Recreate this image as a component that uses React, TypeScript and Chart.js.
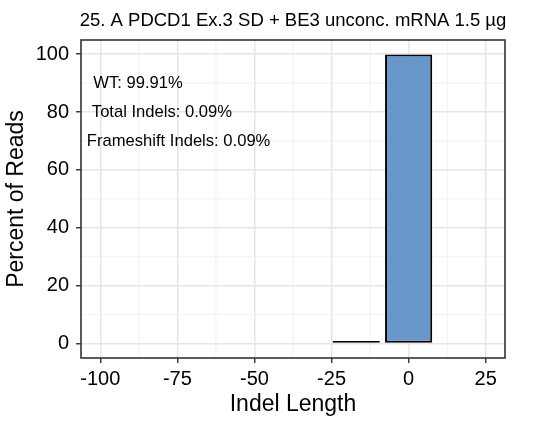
import React, { useEffect, useRef } from 'react';
import { Chart, registerables } from 'chart.js';

Chart.register(...registerables);

const chartTitle = '25. A PDCD1 Ex.3 SD + BE3 unconc. mRNA 1.5 µg';
const xAxisTitle = 'Indel Length';
const yAxisTitle = 'Percent of Reads';

const indelLengths = [-17, 0];
const percentReads = [0.09, 99.91];

const xMajorTicks = [-100, -75, -50, -25, 0, 25];
const xMinorTicks = [-87.5, -62.5, -37.5, -12.5, 12.5];
const yMajorTicks = [0, 20, 40, 60, 80, 100];
const yMinorTicks = [10, 30, 50, 70, 90];
const xLimits = [-106.25, 31.25];
const yLimits = [-4.9955, 104.9055];

const annotationLabels = ['WT: 99.91%', 'Total Indels: 0.09%', 'Frameshift Indels: 0.09%'];
const annotationX = [-87.75, -80, -74.6];
const annotationY = [90, 80, 70];

const FONT = '"Liberation Sans", Arial, Helvetica, sans-serif';
const MAJOR_GRID = '#e6e6e6';
const MINOR_GRID = '#eeeeee';
const DARK = '#333333';

const decorPlugin = {
  id: 'decor',
  beforeDatasetsDraw(chart: any) {
    const { ctx, chartArea: a, scales } = chart;
    const x = scales.x;
    const y = scales.y;
    ctx.save();
    ctx.strokeStyle = MINOR_GRID;
    ctx.lineWidth = 0.8;
    xMinorTicks.forEach((v) => {
      const px = x.getPixelForValue(v);
      ctx.beginPath();
      ctx.moveTo(px, a.top);
      ctx.lineTo(px, a.bottom);
      ctx.stroke();
    });
    yMinorTicks.forEach((v) => {
      const py = y.getPixelForValue(v);
      ctx.beginPath();
      ctx.moveTo(a.left, py);
      ctx.lineTo(a.right, py);
      ctx.stroke();
    });
    ctx.restore();
  },
  afterDatasetsDraw(chart: any) {
    const { ctx, chartArea: a, scales } = chart;
    const x = scales.x;
    const y = scales.y;
    ctx.save();
    ctx.fillStyle = '#000';
    ctx.font = `16.6px ${FONT}`;
    ctx.textAlign = 'center';
    ctx.textBaseline = 'middle';
    annotationLabels.forEach((t, i) => {
      ctx.fillText(t, x.getPixelForValue(annotationX[i]), y.getPixelForValue(annotationY[i]));
    });
    ctx.strokeStyle = DARK;
    ctx.lineWidth = 1.6;
    ctx.strokeRect(a.left, a.top, a.right - a.left, a.bottom - a.top);
    ctx.restore();
  },
  afterDraw(chart: any) {
    const { ctx, chartArea: a } = chart;
    const cx = (a.left + a.right) / 2;
    const cy = (a.top + a.bottom) / 2;
    ctx.save();
    ctx.fillStyle = '#000';
    ctx.textAlign = 'center';
    ctx.textBaseline = 'alphabetic';
    ctx.font = `18.5px ${FONT}`;
    ctx.fillText(chartTitle, cx, 26);
    ctx.font = `23px ${FONT}`;
    ctx.fillText(xAxisTitle, cx, 410.5);
    ctx.translate(23.3, cy);
    ctx.rotate(-Math.PI / 2);
    ctx.fillText(yAxisTitle, 0, 0);
    ctx.restore();
  },
};

export default function App() {
  const ref = useRef<HTMLCanvasElement | null>(null);

  useEffect(() => {
    if (!ref.current) return;
    const chart = new Chart(ref.current, {
      type: 'bar',
      data: {
        datasets: [
          {
            data: indelLengths.map((v, i) => ({ x: v, y: percentReads[i] })),
            backgroundColor: '#6898cb',
            borderColor: '#000000',
            borderWidth: 2,
            borderSkipped: false,
            barPercentage: 0.9,
            categoryPercentage: 1,
            minBarLength: 2.5,
          } as any,
        ],
      },
      options: {
        responsive: false,
        animation: false,
        devicePixelRatio: 1,
        layout: { padding: { top: 40, right: 37, left: 0, bottom: 0 } },
        plugins: {
          legend: { display: false },
          title: { display: false },
          tooltip: { enabled: false },
        },
        scales: {
          x: {
            type: 'linear',
            min: xLimits[0],
            max: xLimits[1],
            offset: false,
            grid: {
              offset: false,
              color: MAJOR_GRID,
              lineWidth: 1.5,
              tickColor: DARK,
              tickLength: 5,
              tickWidth: 1.4,
            },
            border: { display: false },
            ticks: {
              font: { family: FONT, size: 20 },
              color: '#000',
              padding: 4,
              maxRotation: 0,
              autoSkip: false,
              callback: (v: any) => String(v),
            },
            afterBuildTicks: (s: any) => {
              s.ticks = xMajorTicks.map((v) => ({ value: v }));
            },
            afterFit: (s: any) => {
              s.height = 63;
            },
          },
          y: {
            type: 'linear',
            min: yLimits[0],
            max: yLimits[1],
            grid: {
              color: MAJOR_GRID,
              lineWidth: 1.5,
              tickColor: DARK,
              tickLength: 5,
              tickWidth: 1.4,
            },
            border: { display: false },
            ticks: {
              font: { family: FONT, size: 20 },
              color: '#000',
              padding: 7,
              autoSkip: false,
              callback: (v: any) => String(v),
            },
            afterBuildTicks: (s: any) => {
              s.ticks = yMajorTicks.map((v) => ({ value: v }));
            },
            afterFit: (s: any) => {
              s.width = 81;
            },
          },
        },
      } as any,
      plugins: [decorPlugin],
    });
    return () => chart.destroy();
  }, []);

  return (
    <div style={{ position: 'absolute', left: 0, top: 0, width: 542, height: 421, background: '#fff' }}>
      <canvas ref={ref} width={542} height={421} style={{ display: 'block' }} />
    </div>
  );
}
